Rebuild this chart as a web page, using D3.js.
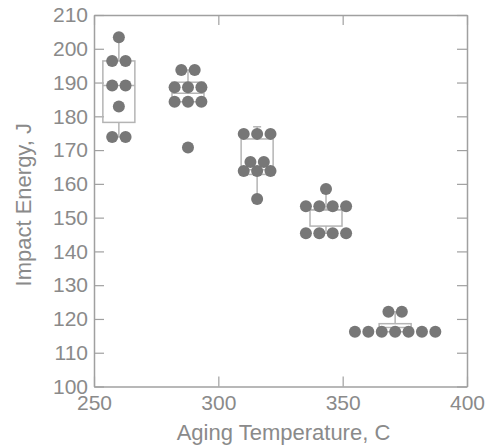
<!DOCTYPE html>
<html lang="en">
<head>
  <meta charset="UTF-8">
  <title>Impact Energy vs Aging Temperature</title>
  <script src="https://cdnjs.cloudflare.com/ajax/libs/d3/7.8.5/d3.min.js"></script>
  <style>
    body { margin: 0; background: #fff; }
    svg { display: block; font-family: "Liberation Sans", Arial, sans-serif; }
  </style>
</head>
<body>
  <script>
var width = 492, height = 446;
var margin = {top: 15, right: 25, bottom: 59.5, left: 94};

var textGray = "#8a8a8a",
    axisGray = "#a0a0a0",
    boxGray = "#b4b4b4",
    dotGray = "#777777";

// aging temperatures (500..700 F in C)
var temps = [260, 287.8, 315.6, 343.3, 371.1];

// impact energy of each specimen, J
var energy = [
  [203.4, 196.4, 196.4, 189.1, 189.1, 182.9, 173.9, 173.9],
  [193.7, 193.7, 188.6, 188.6, 188.6, 184.3, 184.3, 184.3, 170.8],
  [174.8, 174.8, 174.8, 166.5, 166.5, 163.8, 163.8, 163.8, 155.5],
  [158.5, 153.4, 153.4, 153.4, 153.4, 145.4, 145.4, 145.4, 145.4],
  [122.1, 122.1, 116.2, 116.2, 116.2, 116.2, 116.2, 116.2, 116.2]
];

// box and whisker stats as drawn
var whiskHi = [203.4, 193.7, 176.9, 158.5, 122.1];
var q3      = [196.4, 190.1, 173.3, 152.3, 118.6];
var median  = [189.1, 186.8, 164.2, 152.3, 117.5];
var q1      = [178.2, 184.3, 162.8, 147.5, 116.2];
var whiskLo = [173.9, 184.3, 155.5, 145.4, 116.2];

var xTicks = [250, 300, 350, 400];
var yTicks = d3.range(100, 211, 10);

var svg = d3.select("body").append("svg")
    .attr("width", width)
    .attr("height", height);

var x = d3.scaleLinear().domain([250, 400])
    .range([margin.left, width - margin.right]);
var y = d3.scaleLinear().domain([100, 210])
    .range([height - margin.bottom, margin.top]);

function styleAxis(g) {
  g.select(".domain").attr("stroke", axisGray).attr("stroke-width", 1.5);
  g.selectAll(".tick line").attr("stroke", axisGray).attr("stroke-width", 1.2);
  g.selectAll(".tick text").attr("fill", textGray).style("font-size", "21px");
}

svg.append("g")
    .attr("transform", "translate(0," + y(100) + ")")
    .call(d3.axisBottom(x).tickValues(xTicks).tickSize(-10).tickSizeOuter(0).tickPadding(9))
    .call(styleAxis);
svg.append("g")
    .attr("transform", "translate(0," + y(210) + ")")
    .call(d3.axisTop(x).tickValues(xTicks).tickSize(-10).tickSizeOuter(0).tickFormat(""))
    .call(styleAxis);
svg.append("g")
    .attr("transform", "translate(" + x(250) + ",0)")
    .call(d3.axisLeft(y).tickValues(yTicks).tickSize(-10).tickSizeOuter(0).tickPadding(6))
    .call(styleAxis);
svg.append("g")
    .attr("transform", "translate(" + x(400) + ",0)")
    .call(d3.axisRight(y).tickValues(yTicks).tickSize(-10).tickSizeOuter(0).tickFormat(""))
    .call(styleAxis);

// axis titles
svg.append("text")
    .attr("x", (x(250) + x(400)) / 2 + 3)
    .attr("y", 440)
    .attr("text-anchor", "middle")
    .attr("fill", textGray)
    .style("font-size", "22px")
    .text("Aging Temperature, C");

svg.append("text")
    .attr("transform", "translate(31," + ((y(100) + y(210)) / 2 + 4) + ") rotate(-90)")
    .attr("text-anchor", "middle")
    .attr("fill", textGray)
    .style("font-size", "22px")
    .text("Impact Energy, J");

// boxes
var boxW = 32, capW = 8, step = 13.4, r = 6;

var boxes = svg.append("g").selectAll("g")
    .data(temps)
  .enter().append("g")
    .attr("fill", "none")
    .attr("stroke", boxGray)
    .attr("stroke-width", 1.5);

boxes.append("line")
    .attr("x1", function(d) { return x(d); })
    .attr("x2", function(d) { return x(d); })
    .attr("y1", function(d, i) { return y(whiskHi[i]); })
    .attr("y2", function(d, i) { return y(q3[i]); });
boxes.append("line")
    .attr("x1", function(d) { return x(d); })
    .attr("x2", function(d) { return x(d); })
    .attr("y1", function(d, i) { return y(q1[i]); })
    .attr("y2", function(d, i) { return y(whiskLo[i]); });
boxes.append("line")
    .attr("x1", function(d) { return x(d) - capW / 2; })
    .attr("x2", function(d) { return x(d) + capW / 2; })
    .attr("y1", function(d, i) { return y(whiskHi[i]); })
    .attr("y2", function(d, i) { return y(whiskHi[i]); });
boxes.append("line")
    .attr("x1", function(d) { return x(d) - capW / 2; })
    .attr("x2", function(d) { return x(d) + capW / 2; })
    .attr("y1", function(d, i) { return y(whiskLo[i]); })
    .attr("y2", function(d, i) { return y(whiskLo[i]); });
boxes.append("rect")
    .attr("x", function(d) { return x(d) - boxW / 2; })
    .attr("width", boxW)
    .attr("y", function(d, i) { return y(q3[i]); })
    .attr("height", function(d, i) { return y(q1[i]) - y(q3[i]); });
boxes.append("line")
    .attr("x1", function(d) { return x(d) - boxW / 2; })
    .attr("x2", function(d) { return x(d) + boxW / 2; })
    .attr("y1", function(d, i) { return y(median[i]); })
    .attr("y2", function(d, i) { return y(median[i]); });

// dots: equal values share a row, spread sideways
var dots = [];
temps.forEach(function(t, i) {
  var rows = d3.group(energy[i], function(v) { return v; });
  rows.forEach(function(vals, v) {
    vals.forEach(function(_, k) {
      dots.push({t: t, v: v, off: (k - (vals.length - 1) / 2) * step});
    });
  });
});

svg.append("g").selectAll("circle")
    .data(dots)
  .enter().append("circle")
    .attr("cx", function(d) { return x(d.t) + d.off; })
    .attr("cy", function(d) { return y(d.v); })
    .attr("r", r)
    .style("fill", dotGray);
  </script>
</body>
</html>
